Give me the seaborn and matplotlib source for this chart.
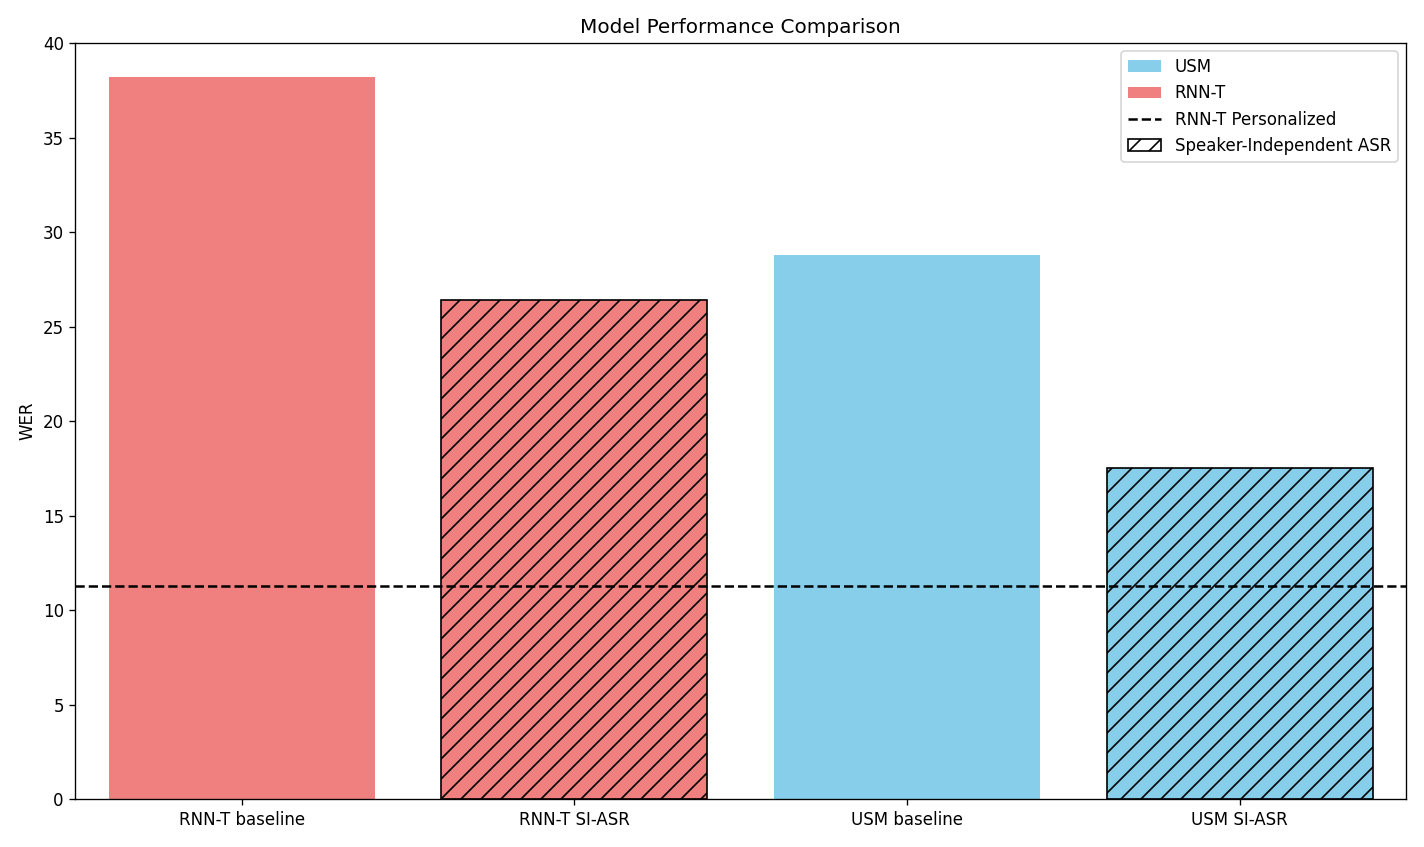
import matplotlib
matplotlib.use("Agg")
import matplotlib.pyplot as plt
from matplotlib.patches import Patch
from matplotlib.lines import Line2D
import seaborn as sns
import pandas as pd

# values
models = ['RNN-T baseline', 'RNN-T SI-ASR', 'USM baseline', 'USM SI-ASR']
wer = [38.2, 26.4, 28.8, 17.5]
family = ['RNN-T', 'RNN-T', 'USM', 'USM']
si_asr = [False, True, False, True]
personalized_wer = 11.3

colors = {'RNN-T': 'lightcoral', 'USM': 'skyblue'}

df = pd.DataFrame({'model': models, 'WER': wer, 'family': family})

fig, ax = plt.subplots(figsize=(1424 / 120, 847 / 120), dpi=120)
sns.barplot(data=df, x='model', y='WER', hue='family', palette=colors,
            dodge=False, width=0.8, saturation=1, legend=False, ax=ax)

for bar, hatched in zip(ax.patches, si_asr):
    if hatched:
        bar.set_hatch('//')
        bar.set_edgecolor('black')
        bar.set_linewidth(1)

ax.axhline(personalized_wer, color='black', linestyle='--', linewidth=1.5)

ax.set_title('Model Performance Comparison')
ax.set_xlabel('')
ax.set_ylabel('WER')
ax.set_ylim(0, 40)

handles = [
    Patch(facecolor='skyblue', label='USM'),
    Patch(facecolor='lightcoral', label='RNN-T'),
    Line2D([0], [0], color='black', linestyle='--', label='RNN-T Personalized'),
    Patch(facecolor='white', edgecolor='black', hatch='//', label='Speaker-Independent ASR'),
]
ax.legend(handles=handles, loc='upper right')

plt.tight_layout()
plt.savefig('out.png')
